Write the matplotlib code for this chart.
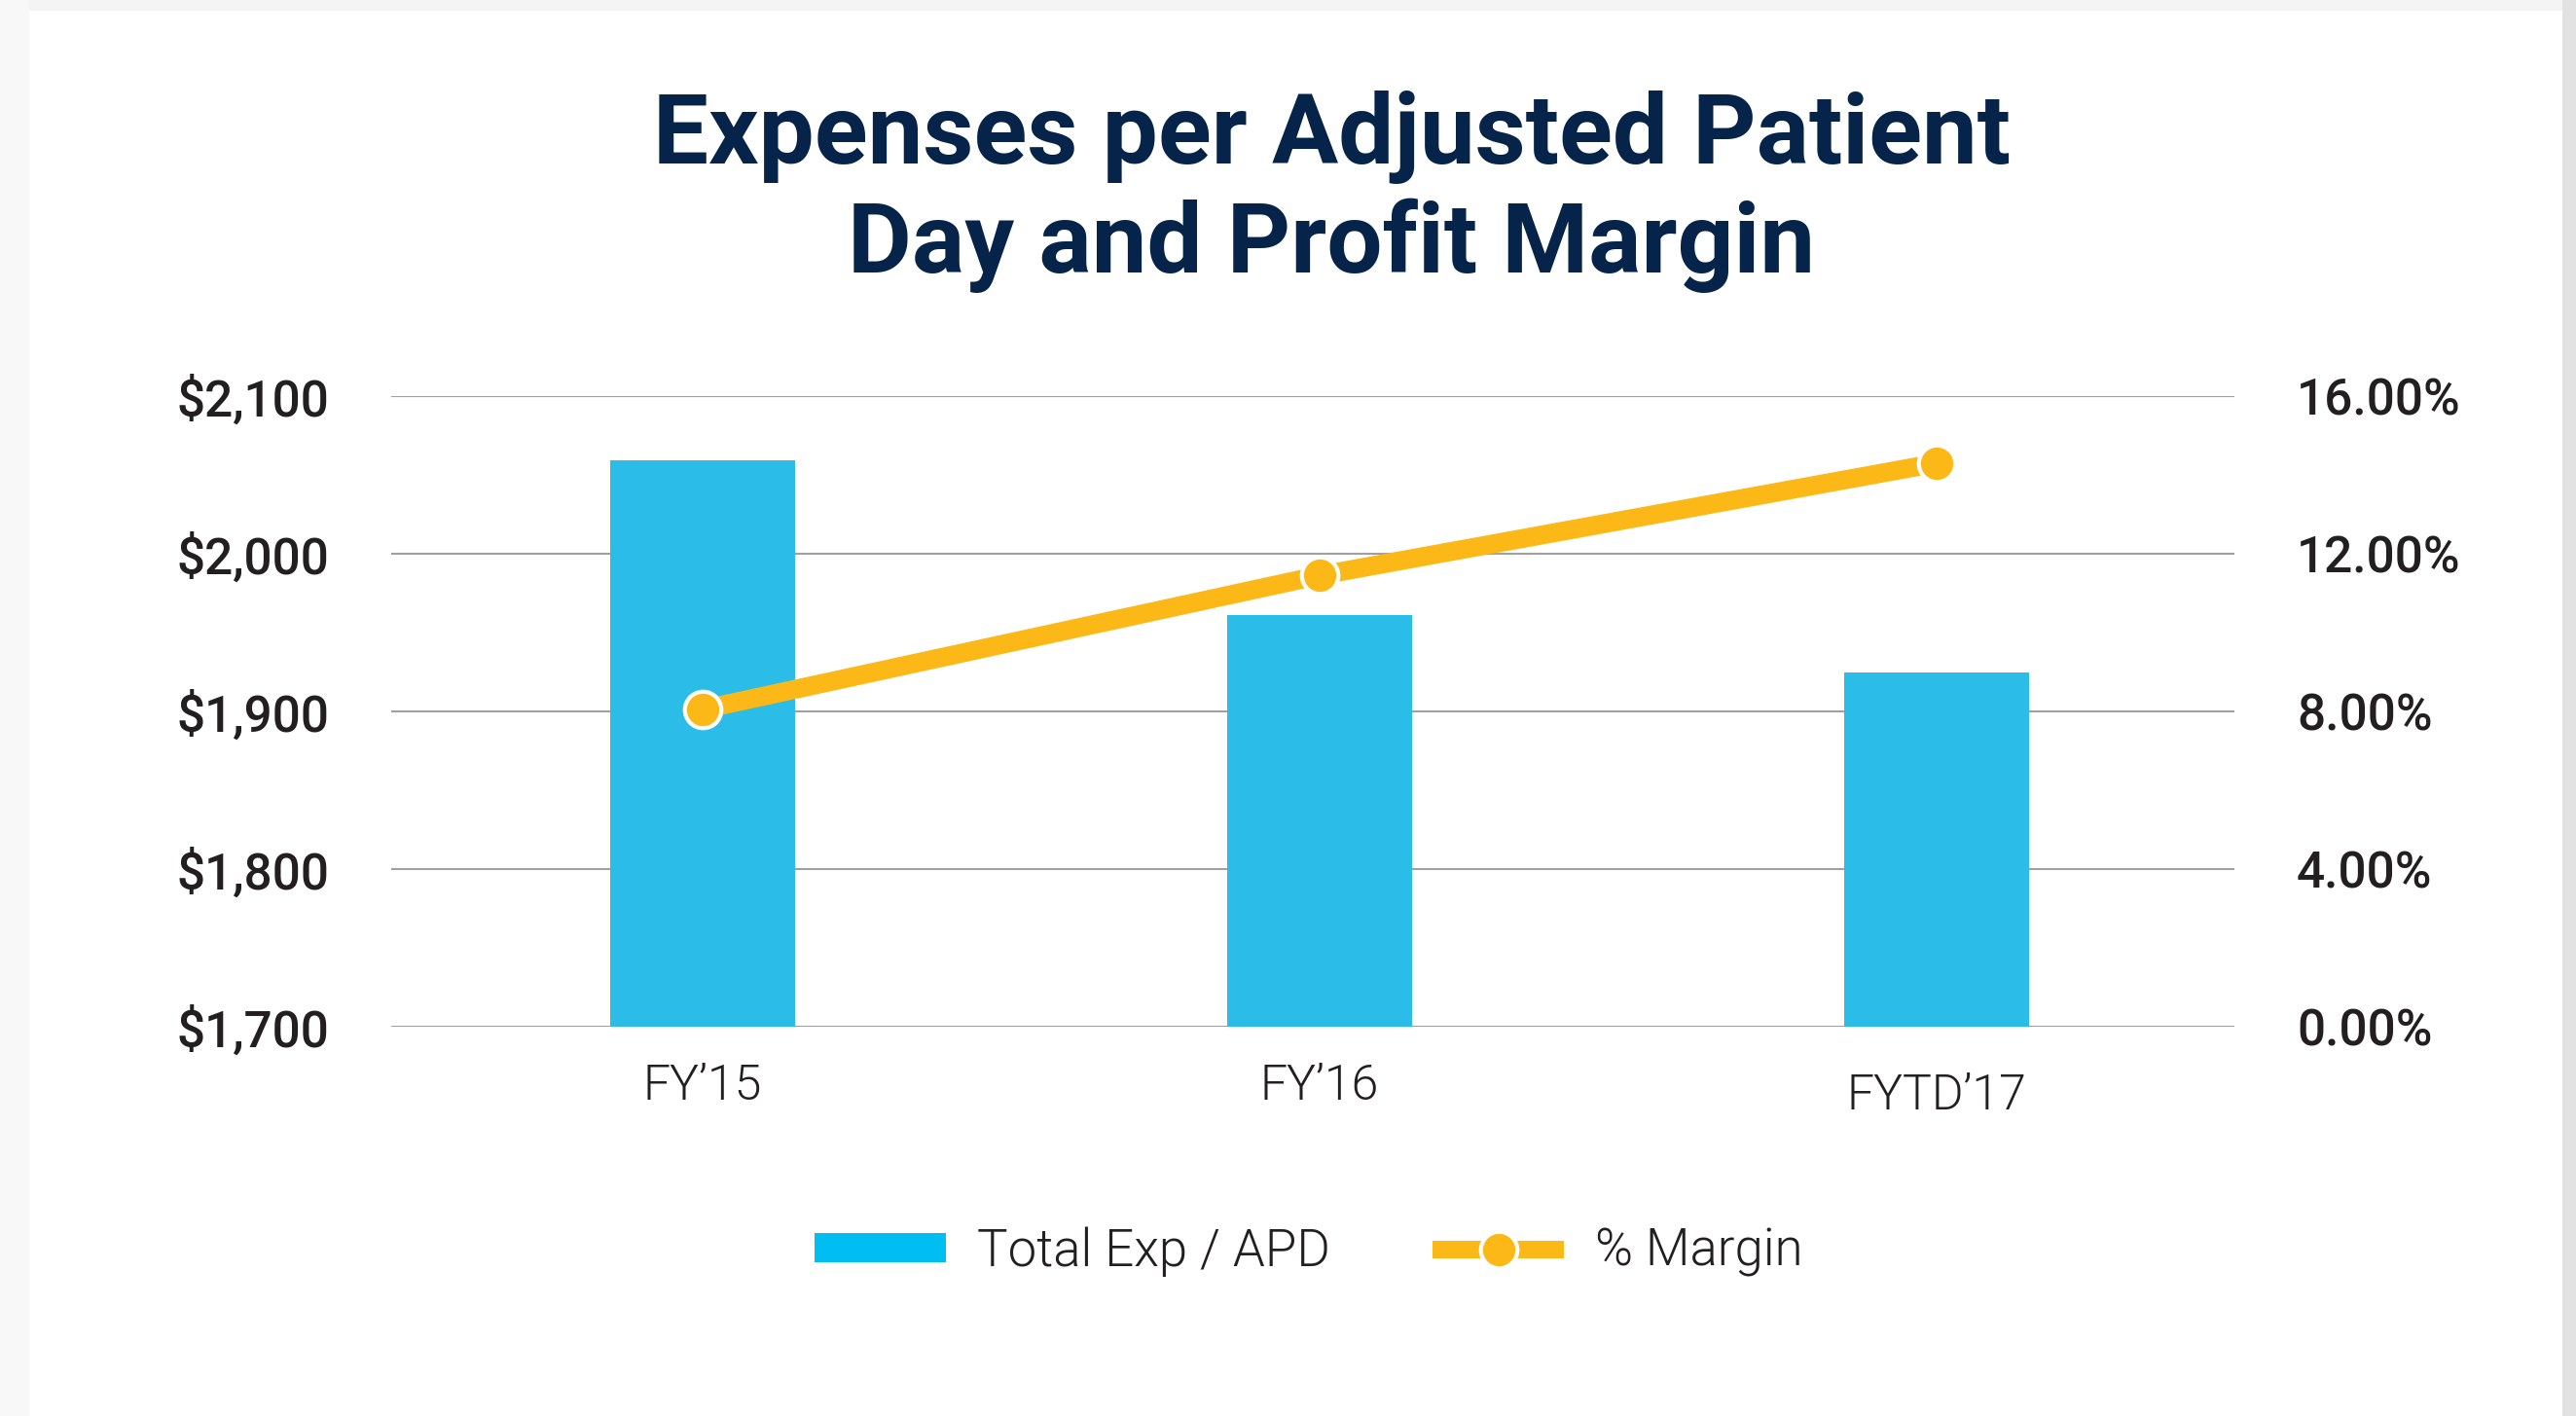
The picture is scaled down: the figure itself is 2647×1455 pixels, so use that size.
import matplotlib.pyplot as plt
from matplotlib.patches import Rectangle, Patch
from matplotlib.lines import Line2D
from matplotlib.ticker import FuncFormatter
import matplotlib.transforms as mtrans

plt.rcParams['font.family'] = ['Roboto', 'DejaVu Sans']

# data
periods = ['FY\u201915', 'FY\u201916', 'FYTD\u201917']
exp_per_apd = [2059, 1961, 1925]
margin_pct = [0.0805, 0.1145, 0.143]

bar_color = '#2CBCE8'
legend_blue = '#00BEF2'
line_color = '#FBB817'
navy = '#06234A'
text_dark = '#231F20'

fig = plt.figure(figsize=(26.47, 14.55), dpi=100, facecolor='white')

# card frame / shadow
fig.patches.append(Rectangle((0, 1 - 11 / 1455), 1, 11 / 1455, transform=fig.transFigure,
                             facecolor='#F4F4F4', edgecolor='none', zorder=0))
fig.patches.append(Rectangle((0, 0), 30 / 2647, 1, transform=fig.transFigure,
                             facecolor='#F8F8F8', edgecolor='none', zorder=0))
fig.patches.append(Rectangle((2633 / 2647, 0), 14 / 2647, 1, transform=fig.transFigure,
                             facecolor='#E2E2E2', edgecolor='none', zorder=0))

ax = fig.add_axes([402 / 2647, 400 / 1455, (2296 - 402) / 2647, (1055 - 407) / 1455])
ax.set_facecolor('none')
x = list(range(len(periods)))
ax.bar(x, exp_per_apd, width=0.30, color=bar_color, zorder=2)
ax.set_xlim(-0.504, 2.482)
ax.set_ylim(1700, 2100)
ax.set_yticks([1700, 1800, 1900, 2000, 2100])
ax.yaxis.set_major_formatter(FuncFormatter(lambda v, p: f'${v:,.0f}'))
ax.grid(axis='y', color='#A0A0A0', linewidth=1.5)
ax.set_axisbelow(True)
ax.set_xticks(x)
ax.set_xticklabels(periods, fontsize=36, fontweight=300, color=text_dark)
ax.tick_params(axis='x', length=0, pad=27)
ax.tick_params(axis='y', length=0, pad=46, labelsize=37, labelcolor=text_dark)
for lbl in ax.get_yticklabels():
    lbl.set_fontweight(500)
for s in ax.spines.values():
    s.set_visible(False)

# last category label sits a touch lower in the reference
last = ax.get_xticklabels()[-1]
last.set_transform(last.get_transform() + mtrans.ScaledTranslation(0, -7 / 72, fig.dpi_scale_trans))

ax2 = ax.twinx()
ax2.plot(x, margin_pct, color=line_color, linewidth=14, solid_capstyle='butt',
         marker='o', markersize=27, markerfacecolor=line_color,
         markeredgecolor='white', markeredgewidth=3, zorder=3)
ax2.set_ylim(0, 0.16)
ax2.set_yticks([0, 0.04, 0.08, 0.12, 0.16])
ax2.yaxis.set_major_formatter(FuncFormatter(lambda v, p: f'{v * 100:.2f}%'))
ax2.tick_params(axis='y', length=0, pad=46, labelsize=37, labelcolor=text_dark)
for lbl in ax2.get_yticklabels():
    lbl.set_fontweight(500)
for s in ax2.spines.values():
    s.set_visible(False)

fig.text(0.517, 1 - 168 / 1455, 'Expenses per Adjusted Patient', ha='center', va='baseline',
         fontsize=73, fontweight='bold', color=navy)
fig.text(0.517, 1 - 280 / 1455, 'Day and Profit Margin', ha='center', va='baseline',
         fontsize=73, fontweight='bold', color=navy)

handles = [
    Patch(facecolor=legend_blue, edgecolor='none', label='Total Exp / APD'),
    Line2D([0], [0], color=line_color, linewidth=13, solid_capstyle='butt', marker='o',
           markersize=27, markerfacecolor=line_color, markeredgecolor='white',
           markeredgewidth=3, label='% Margin'),
]
fig.legend(handles=handles, loc='center', bbox_to_anchor=(0.508, 0.116), ncol=2,
           frameon=False, prop={'size': 38, 'weight': 300}, handlelength=2.56,
           handleheight=0.49, handletextpad=0.6, columnspacing=2.0, labelcolor=text_dark)

fig.savefig('out.png', dpi=100, facecolor='white')
